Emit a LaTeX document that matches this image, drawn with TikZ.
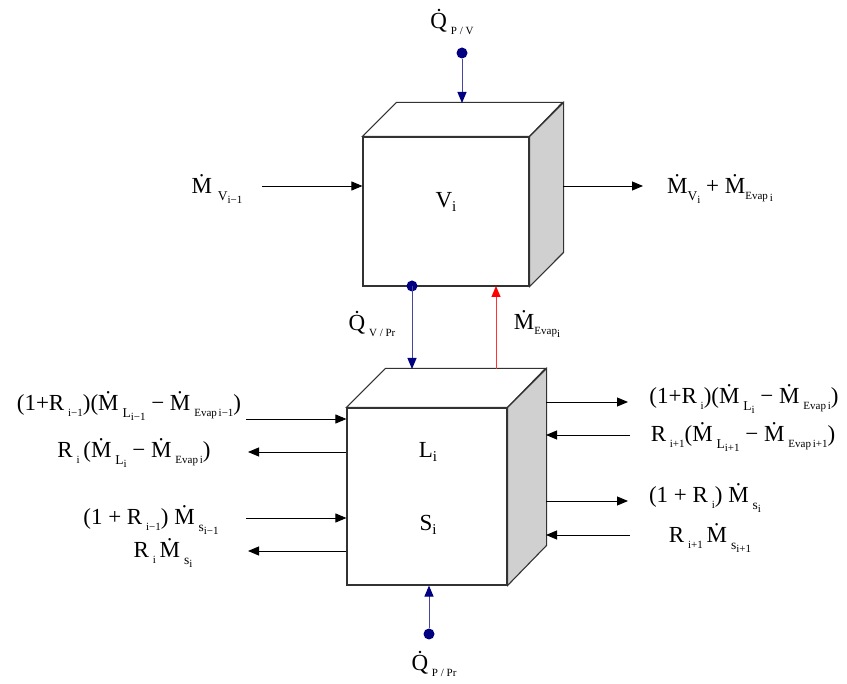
\documentclass[tikz,border=0pt]{standalone}
\usepackage{fontspec}
\setmainfont{Liberation Serif}
\usetikzlibrary{arrows.meta}
\definecolor{navy}{RGB}{0,0,128}
\definecolor{navyline}{RGB}{70,70,160}
\definecolor{edgecol}{RGB}{50,50,50}
\definecolor{sidecol}{RGB}{208,208,208}
\newcommand\Md{\.{M}}
\newcommand\Qd{\.{Q}}
\newcommand\sbA[1]{\raisebox{-0.3em}{\fontsize{13.5}{14}\selectfont #1}}
\newcommand\sbB[1]{\raisebox{-0.25em}{\fontsize{11}{12}\selectfont #1}}
\newcommand\sbC[1]{\raisebox{-0.2em}{\fontsize{15}{16}\selectfont #1}}
\begin{document}
\begin{tikzpicture}[x=1pt,y=-1pt,
  lbl/.style={inner sep=0pt, font=\fontsize{23}{26}\selectfont},
  face/.style={draw=edgecol, line width=1.1pt, line join=miter},
  flow/.style={draw=black, line width=0.9pt, -{Triangle[length=11pt,width=9pt]}},
  heat/.style={draw=navyline, line width=1pt, -{Triangle[length=11pt,width=9pt,fill=navy,color=navy]}},
  evap/.style={draw=red!80, line width=1pt, -{Triangle[length=11pt,width=9pt,fill=red,color=red]}},
  src/.style={circle, fill=navy, inner sep=0pt, minimum size=11pt}]
\useasboundingbox (0,0) rectangle (847,684);

% ---------- upper cube V_i ----------
\node[face, fill=white, minimum width=166pt, minimum height=149pt, inner sep=0pt] (V) at (446,211.5) {};
\draw[face, fill=white] (V.north west) -- ++(34,-34) -- ++(166,0) -- (V.north east) -- cycle;
\draw[face, fill=sidecol] (V.north east) -- ++(34,-34) -- ++(0,150) -- (V.south east) -- cycle;
\node[lbl] (Vlab) at (446,202) {V\sbC{i}};

% ---------- lower cube L_i, S_i ----------
\node[face, fill=white, minimum width=160pt, minimum height=177pt, inner sep=0pt] (L) at (427,496.5) {};
\draw[face, fill=white] (L.north west) -- ++(39,-39) -- ++(160,0) -- (L.north east) -- cycle;
\draw[face, fill=sidecol] (L.north east) -- ++(39,-39) -- ++(0,177) -- (L.south east) -- cycle;
\node[lbl] (Llab) at (428,452) {L\sbC{i}};
\node[lbl] (Slab) at (428,525) {S\sbC{i}};

% ---------- heat input to V ----------
\node[src] (qpv) at (462,53) {};
\coordinate (Vback) at (462,103);
\draw[heat] (qpv) -- (Vback);
\node[lbl] (qpvlab) at (452,22) {\Qd\,\sbB{P / V}};

% ---------- vapour in / out ----------
\coordinate (vin) at (262,186);
\draw[flow] (vin) -- (V.west |- vin);
\node[lbl] (vinlab) at (217,189) {\Md\ \sbA{V\sbB{i−1}}};
\coordinate (vout) at (643,186);
\coordinate (Vside) at (563,186);
\draw[flow] (Vside) -- (vout);
\node[lbl] (voutlab) at (720,189) {\Md\sbA{V\sbB{i}} + \Md\sbB{Evap\,\sbB{i}}};

% ---------- between cubes ----------
\node[src] (qvp) at (412,286) {};
\coordinate (Lback1) at (412,369);
\draw[heat] (qvp.center) -- (Lback1);
\node[lbl] (qvplab) at (372,324) {\Qd\,\sbB{V / Pr}};
\coordinate (Lback2) at (496,369);
\coordinate (Vbot) at (496,286);
\draw[evap] (Lback2) -- (Vbot);
\node[lbl] (evlab) at (537,324) {\Md\sbB{Evap\sbB{i}}};

% ---------- left side streams ----------
\coordinate (l1) at (246,419);
\draw[flow] (l1) -- (L.west |- l1);
\node[lbl] (l1lab) at (129,406) {(1+R\,\sbB{i−1})(\Md\,\sbA{L\sbB{i−1}} − \Md\,\sbB{Evap\,i−1})};
\coordinate (l2) at (248,452);
\draw[flow] (L.west |- l2) -- (l2);
\node[lbl] (l2lab) at (134,453) {R\,\sbB{i}\,(\Md\,\sbA{L\sbB{i}} − \Md\,\sbB{Evap\,i})};
\coordinate (l3) at (246,518);
\draw[flow] (l3) -- (L.west |- l3);
\node[lbl] (l3lab) at (151,520) {(1 + R\,\sbB{i−1}) \Md\,\sbA{s\sbB{i−1}}};
\coordinate (l4) at (248,551);
\draw[flow] (L.west |- l4) -- (l4);
\node[lbl] (l4lab) at (163,553) {R\,\sbB{i}\,\Md\,\sbA{s\sbB{i}}};

% ---------- right side streams ----------
\coordinate (Lside) at (546,402);
\coordinate (r1) at (628,402);
\draw[flow] (Lside) -- (r1);
\node[lbl] (r1lab) at (744,399) {(1+R\,\sbB{i})(\Md\,\sbA{L\sbB{i}} − \Md\,\sbB{Evap\,i})};
\coordinate (r2) at (630,435);
\draw[flow] (r2) -- (Lside |- r2);
\node[lbl] (r2lab) at (743,437) {R\,\sbB{i+1}(\Md\,\sbA{L\sbB{i+1}} − \Md\,\sbB{Evap\,i+1})};
\coordinate (r3) at (628,501);
\draw[flow] (Lside |- r3) -- (r3);
\node[lbl] (r3lab) at (705,498) {(1 + R\,\sbB{i}) \Md\,\sbA{s\sbB{i}}};
\coordinate (r4) at (630,535);
\draw[flow] (r4) -- (Lside |- r4);
\node[lbl] (r4lab) at (710,538) {R\,\sbB{i+1}\,\Md\,\sbA{s\sbB{i+1}}};

% ---------- heat input to lower cube ----------
\node[src] (qpp) at (429,634) {};
\draw[heat] (qpp) -- (L.south -| qpp);
\node[lbl] (qpplab) at (434,664) {\Qd\,\sbB{P / Pr}};
\end{tikzpicture}
\end{document}
